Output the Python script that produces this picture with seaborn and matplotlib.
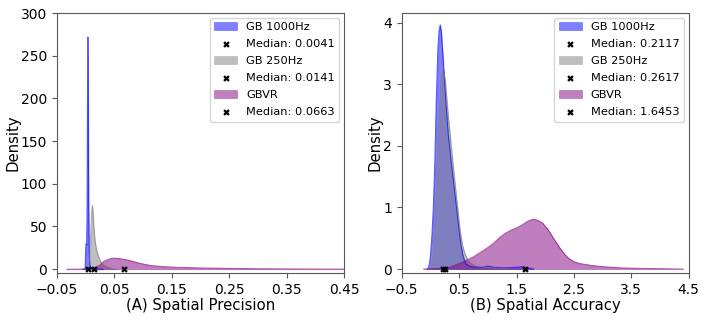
import matplotlib
matplotlib.use("Agg")

import matplotlib.pyplot as plt
import seaborn as sns
from matplotlib.colors import to_rgba

# series names and fill colours
names = ["GB 1000Hz", "GB 250Hz", "GBVR"]
colors = ["blue", "gray", "purple"]

# (A) spatial precision: density curves
prec_gb1000_x = [-0.004, -0.001, 0.0, 0.0008, 0.0015, 0.0022, 0.0028, 0.0033, 0.0037,
                 0.0041, 0.0046, 0.0052, 0.006, 0.007, 0.009, 0.012, 0.02, 0.03]
prec_gb1000_y = [0, 1, 25, 30, 28, 60, 150, 240, 272, 250, 160, 70, 20, 6, 2, 0.5, 0.1, 0]

prec_gb250_x = [0.004, 0.006, 0.0075, 0.009, 0.0105, 0.0116, 0.0128, 0.014, 0.016,
                0.019, 0.022, 0.026, 0.031, 0.037, 0.045, 0.055]
prec_gb250_y = [0, 4, 20, 45, 68, 75, 66, 50, 34, 22, 15, 9, 5, 3, 1, 0]

prec_gbvr_x = [-0.033, -0.01, 0.0, 0.01, 0.018, 0.025, 0.031, 0.04, 0.048, 0.055, 0.065,
               0.075, 0.083, 0.095, 0.112, 0.13, 0.153, 0.2, 0.26, 0.3, 0.35, 0.4, 0.45]
prec_gbvr_y = [0, 0.2, 0.5, 1.2, 2.5, 5, 9, 11.8, 13, 12.8, 11.8, 10.5, 9, 6.8, 4.5,
               3.3, 2.4, 1.5, 0.9, 0.6, 0.4, 0.25, 0.15]

prec_medians = [0.0041, 0.0141, 0.0663]

# (B) spatial accuracy: density curves
acc_gb1000_x = [-0.06, -0.04, -0.02, 0.0, 0.025, 0.05, 0.075, 0.1, 0.13, 0.15, 0.17, 0.19,
                0.23, 0.27, 0.31, 0.36, 0.41, 0.46, 0.49, 0.53, 0.57, 0.62, 0.7, 0.8, 0.9,
                1.0, 1.1, 1.3, 1.5, 1.6, 1.7, 1.8]
acc_gb1000_y = [0, 0.02, 0.08, 0.22, 0.55, 1.0, 1.7, 2.7, 3.6, 3.88, 3.97, 3.85, 3.27, 2.7,
                2.19, 1.75, 1.35, 0.95, 0.7, 0.4, 0.2, 0.08, 0.04, 0.03, 0.03, 0.05, 0.03,
                0.02, 0.03, 0.04, 0.02, 0]

acc_gb250_x = [0.0, 0.05, 0.1, 0.14, 0.18, 0.22, 0.26, 0.3, 0.34, 0.37, 0.41, 0.45, 0.49,
               0.52, 0.56, 0.6, 0.65, 0.7, 0.8, 0.9, 1.0, 1.2, 1.4]
acc_gb250_y = [0, 0.3, 1.2, 2.3, 3.0, 3.3, 3.05, 2.6, 2.2, 1.92, 1.55, 1.2, 0.85, 0.6,
               0.38, 0.25, 0.15, 0.1, 0.05, 0.03, 0.02, 0.01, 0]

acc_gbvr_x = [-0.12, 0.0, 0.15, 0.3, 0.45, 0.6, 0.75, 0.9, 1.0, 1.1, 1.2, 1.3, 1.4, 1.5,
              1.6, 1.7, 1.78, 1.85, 1.95, 2.05, 2.15, 2.25, 2.32, 2.4, 2.5, 2.6, 2.8, 3.0,
              3.3, 3.7, 4.1, 4.4]
acc_gbvr_y = [0, 0.005, 0.01, 0.02, 0.07, 0.13, 0.2, 0.29, 0.35, 0.42, 0.51, 0.58, 0.63,
              0.67, 0.72, 0.78, 0.81, 0.8, 0.75, 0.64, 0.49, 0.35, 0.26, 0.18, 0.12, 0.09,
              0.06, 0.04, 0.02, 0.01, 0.005, 0]

acc_medians = [0.2117, 0.2617, 1.6453]


def draw_panel(ax, curves, medians, xlabel, xticks, yticks, ylim):
    handles = []
    labels = []
    for (xs, ys), name, c, med in zip(curves, names, colors, medians):
        # outline of the density
        sns.lineplot(x=xs, y=ys, color=c, lw=0.7, alpha=0.6, sort=False,
                     legend=False, ax=ax)
        # filled area
        poly = ax.fill_between(xs, ys, facecolor=to_rgba(c, 0.5),
                               edgecolor=to_rgba(c, 0.35), lw=0.6)
        handles.append(poly)
        labels.append(name)
        # median marker on the baseline
        sns.scatterplot(x=[med], y=[0], marker="X", color="black", s=22,
                        linewidth=0, zorder=5, ax=ax)
        handles.append(ax.collections[-1])
        labels.append(f"Median: {med:.4f}")

    ax.set_xticks(xticks)
    ax.set_yticks(yticks)
    ax.set_xlim(xticks[0], xticks[-1])
    ax.set_ylim(*ylim)
    ax.tick_params(labelsize=10, color="0.35")
    for sp in ax.spines.values():
        sp.set_color("0.35")
    ax.set_xlabel(xlabel, fontsize=10.7, labelpad=1)
    ax.set_ylabel("Density", fontsize=10.7, labelpad=0.5)
    ax.legend(handles, labels, loc="upper right", fontsize=8.2,
              labelspacing=0.62, borderaxespad=0.4)


fig = plt.figure(figsize=(7.06, 3.35), dpi=100)
ax1 = fig.add_axes([0.0807, 0.185, 0.4065, 0.776])
ax2 = fig.add_axes([0.569, 0.185, 0.4065, 0.776])

draw_panel(
    ax1,
    [(prec_gb1000_x, prec_gb1000_y), (prec_gb250_x, prec_gb250_y), (prec_gbvr_x, prec_gbvr_y)],
    prec_medians,
    "(A) Spatial Precision",
    [-0.05, 0.05, 0.15, 0.25, 0.35, 0.45],
    [0, 50, 100, 150, 200, 250, 300],
    (-4.5, 300),
)

draw_panel(
    ax2,
    [(acc_gb1000_x, acc_gb1000_y), (acc_gb250_x, acc_gb250_y), (acc_gbvr_x, acc_gbvr_y)],
    acc_medians,
    "(B) Spatial Accuracy",
    [-0.5, 0.5, 1.5, 2.5, 3.5, 4.5],
    [0, 1, 2, 3, 4],
    (-0.065, 4.16),
)

plt.savefig("out.png", dpi=100)
plt.close()
